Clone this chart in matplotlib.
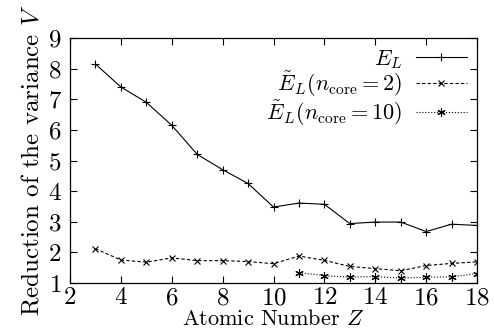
import matplotlib
matplotlib.use("Agg")
import matplotlib.pyplot as plt

plt.rcParams['font.family'] = 'cmr10'
plt.rcParams['mathtext.fontset'] = 'cm'
plt.rcParams['axes.formatter.use_mathtext'] = True

z_full = [3, 4, 5, 6, 7, 8, 9, 10, 11, 12, 13, 14, 15, 16, 17, 18]
e_l = [8.15, 7.4, 6.9, 6.15, 5.2, 4.7, 4.25, 3.48, 3.61, 3.57, 2.94, 2.99, 2.99, 2.68, 2.92, 2.88]
e_core2 = [2.12, 1.75, 1.68, 1.82, 1.73, 1.73, 1.70, 1.63, 1.88, 1.74, 1.54, 1.47, 1.40, 1.57, 1.64, 1.69]
z_core10 = [11, 12, 13, 14, 15, 16, 17, 18]
e_core10 = [1.34, 1.24, 1.19, 1.21, 1.16, 1.19, 1.20, 1.31]

fig = plt.figure(figsize=(4.94, 3.32), dpi=100)
ax = fig.add_axes([70/494, 1-283/332, (477-70)/494, (283-38)/332])

asterisk = (6, 2, 0)
ax.plot(z_full, e_l, '-', color='black', lw=0.8, marker='+', ms=6, mew=0.8, label=r'$E_L$')
ax.plot(z_full, e_core2, '--', color='black', lw=0.8, marker='x', ms=5, mew=0.8, dashes=(3, 2),
        label=r'$\tilde{E}_L(n_{\rm core}=2)$')
ax.plot(z_core10, e_core10, ':', color='black', lw=0.8, marker=asterisk, ms=6, mew=0.8,
        label=r'$\tilde{E}_L(n_{\rm core}=10)$')

ax.set_xlim(2, 18)
ax.set_ylim(1, 9)
ax.set_xticks(range(2, 19, 2))
ax.set_yticks(range(1, 10))
ax.tick_params(direction='in', top=True, right=True, labelsize=18, length=5, width=0.8)
ax.tick_params(axis='x', pad=3)
ax.tick_params(axis='y', pad=6)
for s in ax.spines.values():
    s.set_linewidth(0.9)
ax.set_xlabel(r'Atomic Number $Z$', fontsize=16, labelpad=0)
ax.set_ylabel(r'Reduction of the variance $V$', fontsize=18, labelpad=3)

leg = ax.legend(loc='upper right', markerfirst=False, frameon=False, fontsize=16,
                handlelength=2.3, handletextpad=0.6, labelspacing=-0.05,
                borderaxespad=0.4, borderpad=0.05)
for t in leg.get_texts():
    t.set_ha('right')

fig.savefig('out.png', dpi=100)
